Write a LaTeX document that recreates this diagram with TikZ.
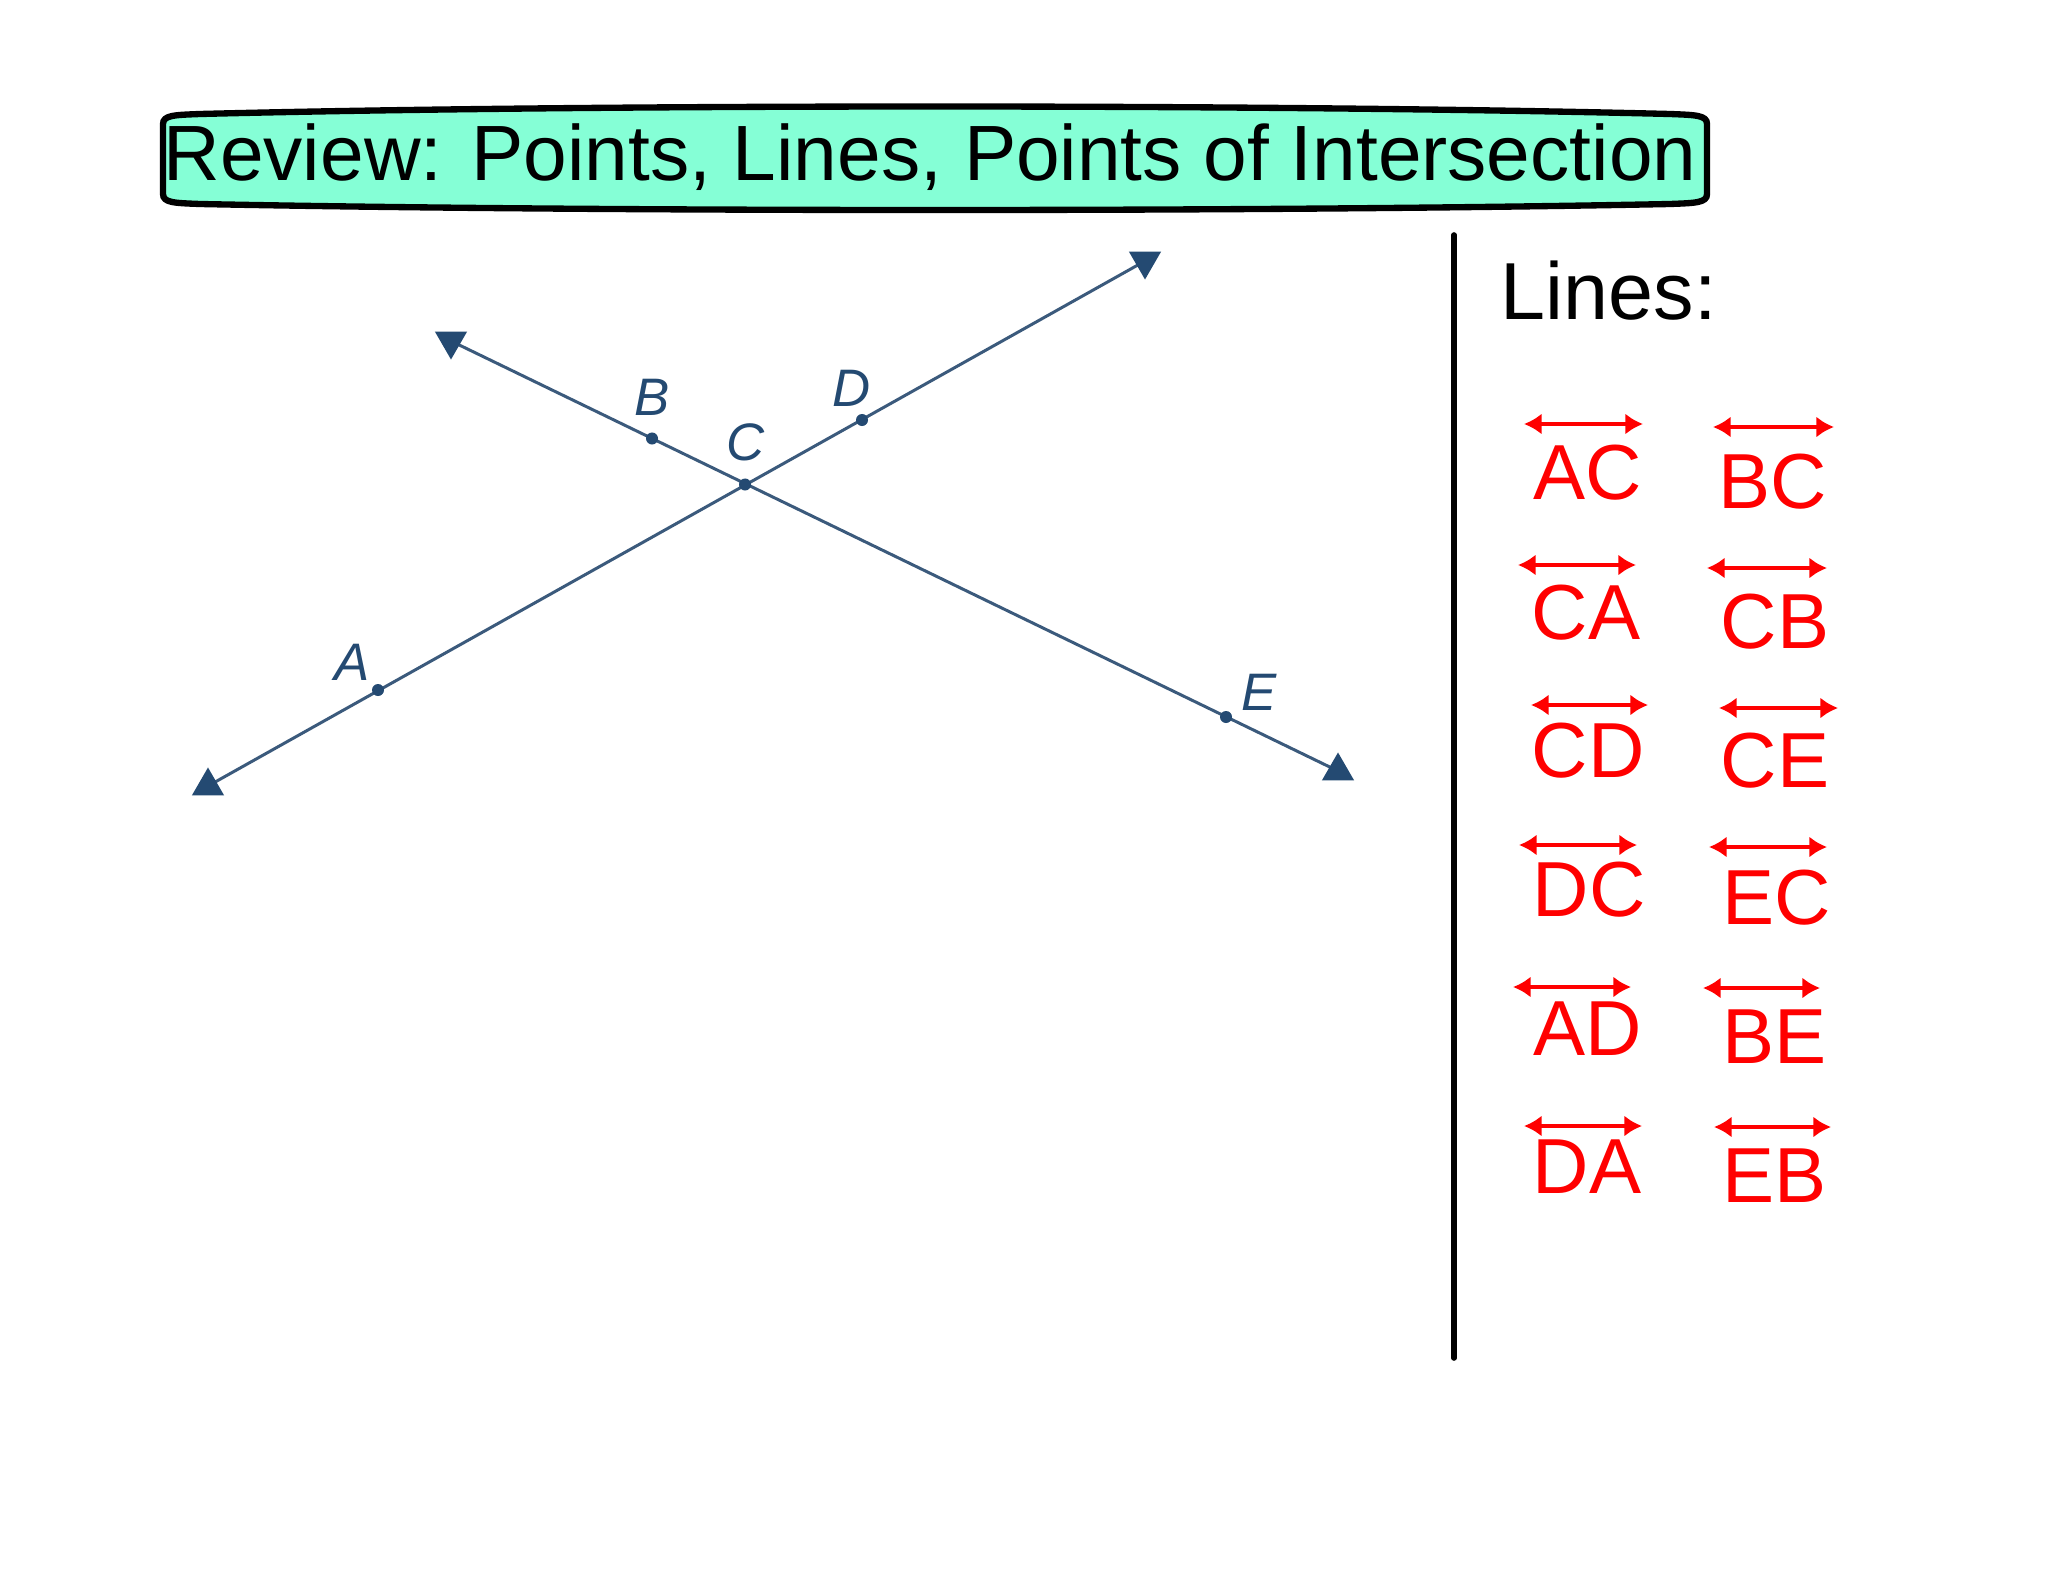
\documentclass[tikz,border=0pt]{standalone}
\usepackage{fontspec}
\setmainfont{Liberation Sans}
\usetikzlibrary{arrows.meta,shapes.geometric}
\definecolor{navy}{HTML}{244A72}
\definecolor{navyline}{HTML}{3B5A7C}
\definecolor{aqua}{HTML}{85FFD6}
\definecolor{lred}{HTML}{FF0000}

\tikzset{
  ptdot/.style={circle,fill=navy,inner sep=0,minimum size=0.12cm},
  ptlabel/.style={text=navy,font=\fontsize{15}{17}\selectfont\itshape,inner sep=0},
  endtri/.style={regular polygon,regular polygon sides=3,fill=navy,inner sep=0,minimum size=0.37cm},
  geoline/.style={navyline,line width=0.85pt},
  linename/.style={text=lred,font=\fontsize{22.2}{26}\selectfont,anchor=base west,inner sep=0},
  overarrow/.style={lred,line width=1.4pt,{Latex[length=5pt,width=6pt]}-{Latex[length=5pt,width=6pt]}}
}

\begin{document}
\begin{tikzpicture}[x=0.01cm,y=-0.01cm]
  \fill[white] (0,0) rectangle (2048,1582);
  \useasboundingbox (0,0) rectangle (2048,1582);
  % title banner
  \draw[fill=aqua,line width=1.8pt] (163,124) -- (163,194) .. controls (163,203) and (175,203) .. (200,204)
    .. controls (600,212) and (1270,212) .. (1670,204) .. controls (1695,203) and (1707,203) .. (1707,194)
    -- (1707,124) .. controls (1707,115) and (1695,115) .. (1670,114)
    .. controls (1270,104) and (600,104) .. (200,114) .. controls (175,115) and (163,115) .. cycle;
  \node[anchor=base,inner sep=0,font=\fontsize{22.3}{27}\selectfont] (title) at (930,181) {Review: Points, Lines, Points of Intersection};

  % the two lines
  \coordinate (endLL) at (208,786);
  \coordinate (endUR) at (1145,261);
  \coordinate (endUL) at (451,341);
  \coordinate (endLR) at (1338,771);
  \draw[geoline] (endLL) -- (endUR);
  \draw[geoline] (endUL) -- (endLR);
  \node[endtri] (tLL) at (endLL) {};
  \node[endtri] (tLR) at (endLR) {};
  \node[endtri,shape border rotate=180] (tUR) at (endUR) {};
  \node[endtri,shape border rotate=180] (tUL) at (endUL) {};

  % points and labels
  \node[ptdot] (A) at (378,690) {};
  \node[ptdot] (B) at (652,438.5) {};
  \node[ptdot] (C) at (745,484.5) {};
  \node[ptdot] (D) at (862,420) {};
  \node[ptdot] (E) at (1226,717) {};
  \node[ptlabel] (labA) at (352,662) {A};
  \node[ptlabel] (labB) at (652,397) {B};
  \node[ptlabel] (labC) at (746,442) {C};
  \node[ptlabel] (labD) at (852,388) {D};
  \node[ptlabel] (labE) at (1259,692) {E};

  % divider
  \coordinate (rtop) at (1454,235);
  \coordinate (rbot) at (1454,1358);
  \draw[line width=1.6pt,line cap=round] (rtop) -- (rbot);

  \node[anchor=base west,inner sep=0,font=\fontsize{23}{27}\selectfont] (lines) at (1500,319) {Lines:};

  % names of the lines
  \foreach \nm/\tx/\ty/\ax/\bx/\ay in {AC/1533/499/1524/1643/424, CA/1531/639/1518/1636/565,
      CD/1531/777/1531/1648/705, DC/1532/916/1519/1637/845, AD/1533/1055/1513/1631/987,
      DA/1532/1193/1524/1642/1126, BC/1718/508/1713/1834/427, CB/1720/648/1707/1827/568,
      CE/1720/787/1719/1838/708, EC/1722/924/1709/1827/847, BE/1722/1063/1703/1820/988,
      EB/1722/1202/1714/1831/1127}{
    \node[linename] (n\nm) at (\tx,\ty) {\nm};
    \coordinate (s\nm) at (\ax,\ay);
    \coordinate (e\nm) at (\bx,\ay);
    \draw[overarrow] (s\nm) -- (e\nm);
  }
\end{tikzpicture}
\end{document}
